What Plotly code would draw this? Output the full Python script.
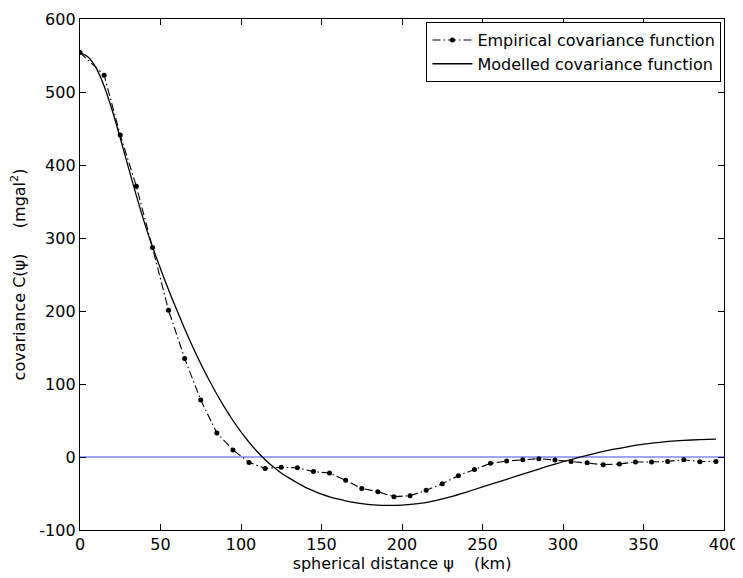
import plotly.graph_objects as go

# Empirical covariance (spherical distance km, covariance mgal^2)
emp_dist = [0, 15, 25, 35, 45, 55, 65, 75, 85, 95, 105, 115, 125, 135, 145, 155, 165, 175,
            185, 195, 205, 215, 225, 235, 245, 255, 265, 275, 285, 295, 305, 315, 325, 335,
            345, 355, 365, 375, 385, 395]
emp_cov = [554, 523, 441, 371, 287, 201, 135, 78, 33, 9.6, -7.4, -15.6, -14.2, -14.7, -20,
           -22, -32, -43, -47.5, -54.4, -53, -45.7, -36.6, -25.6, -17, -8.7, -5.5, -3.7,
           -2.3, -4.1, -6, -7.8, -10.5, -9.6, -6.8, -6.8, -6, -3.7, -6.4, -6]

# Modelled covariance function
mod_dist = [0, 5, 10, 15, 20, 25, 30, 35, 40, 45, 50, 55, 60, 65, 70, 75, 80, 85, 90, 95,
            100, 105, 110, 115, 120, 125, 130, 135, 140, 145, 150, 155, 160, 165, 170, 175,
            180, 185, 190, 195, 200, 210, 220, 230, 240, 250, 260, 270, 280, 290, 300, 310,
            320, 330, 340, 350, 360, 370, 380, 390, 395]
mod_cov = [554, 548, 533, 508, 475, 437, 397, 358, 321, 288, 258, 229, 202, 175.8, 151,
           127.8, 106.1, 85.9, 67.2, 50, 34.3, 20.2, 7.5, -3.7, -13.5, -22, -29, -35.5,
           -41.5, -46.5, -51, -54.5, -57.5, -60, -62.2, -64, -65.2, -65.9, -66.2, -66.2,
           -66, -64, -60, -54.5, -48, -41, -34, -27, -20, -13, -6.5, -0.5, 5, 10, 14,
           17.5, 20, 22, 23.3, 24.2, 24.5]

zero_x = [0, 400]
zero_y = [0, 0]

x_ticks = [0, 50, 100, 150, 200, 250, 300, 350, 400]
y_ticks = [-100, 0, 100, 200, 300, 400, 500, 600]

FONT = "DejaVu Sans, Verdana, sans-serif"
NB = "\u00a0"

fig = go.Figure()
fig.add_trace(go.Scatter(x=zero_x, y=zero_y, mode="lines",
                         line=dict(color="#4444ff", width=1.2), showlegend=False,
                         hoverinfo="skip"))
fig.add_trace(go.Scatter(x=emp_dist, y=emp_cov, mode="lines+markers",
                         name="Empirical covariance function",
                         line=dict(color="black", width=1.1, dash="8px,3px,1.5px,3px"),
                         marker=dict(color="black", size=5, symbol="circle")))
fig.add_trace(go.Scatter(x=mod_dist, y=mod_cov, mode="lines",
                         name="Modelled covariance function",
                         line=dict(color="black", width=1.3, shape="spline", smoothing=0.6)))

axis_common = dict(showline=True, linecolor="black", linewidth=1.3, mirror="ticks",
                   ticks="inside", ticklen=6, tickcolor="black", tickwidth=1,
                   showgrid=False, zeroline=False, automargin=False,
                   tickfont=dict(family=FONT, size=16, color="black"))

# the page body has an 8px margin, so the figure is sized/offset to compensate
fig.update_layout(
    width=735, height=570,
    margin=dict(l=72, r=19, t=11, b=48),
    paper_bgcolor="white", plot_bgcolor="white",
    font=dict(family=FONT, size=16, color="black"),
    xaxis=dict(range=[0, 400], tickvals=x_ticks, ticktext=[str(v) for v in x_ticks],
               title=dict(text="spherical distance \u03c8" + NB * 4 + "(km)",
                          font=dict(family=FONT, size=16), standoff=0),
               **axis_common),
    yaxis=dict(range=[-100, 600], tickvals=y_ticks, ticktext=[str(v) for v in y_ticks],
               title=dict(text="covariance C(\u03c8)" + NB * 5 + "(mgal<sup>2</sup>)",
                          font=dict(family=FONT, size=16), standoff=10),
               **axis_common),
    legend=dict(x=0.996, y=0.994, xanchor="right", yanchor="top",
                bgcolor="white", bordercolor="black", borderwidth=1,
                font=dict(family=FONT, size=16), tracegroupgap=0,
                itemwidth=40),
)

fig.write_html("out.html")
